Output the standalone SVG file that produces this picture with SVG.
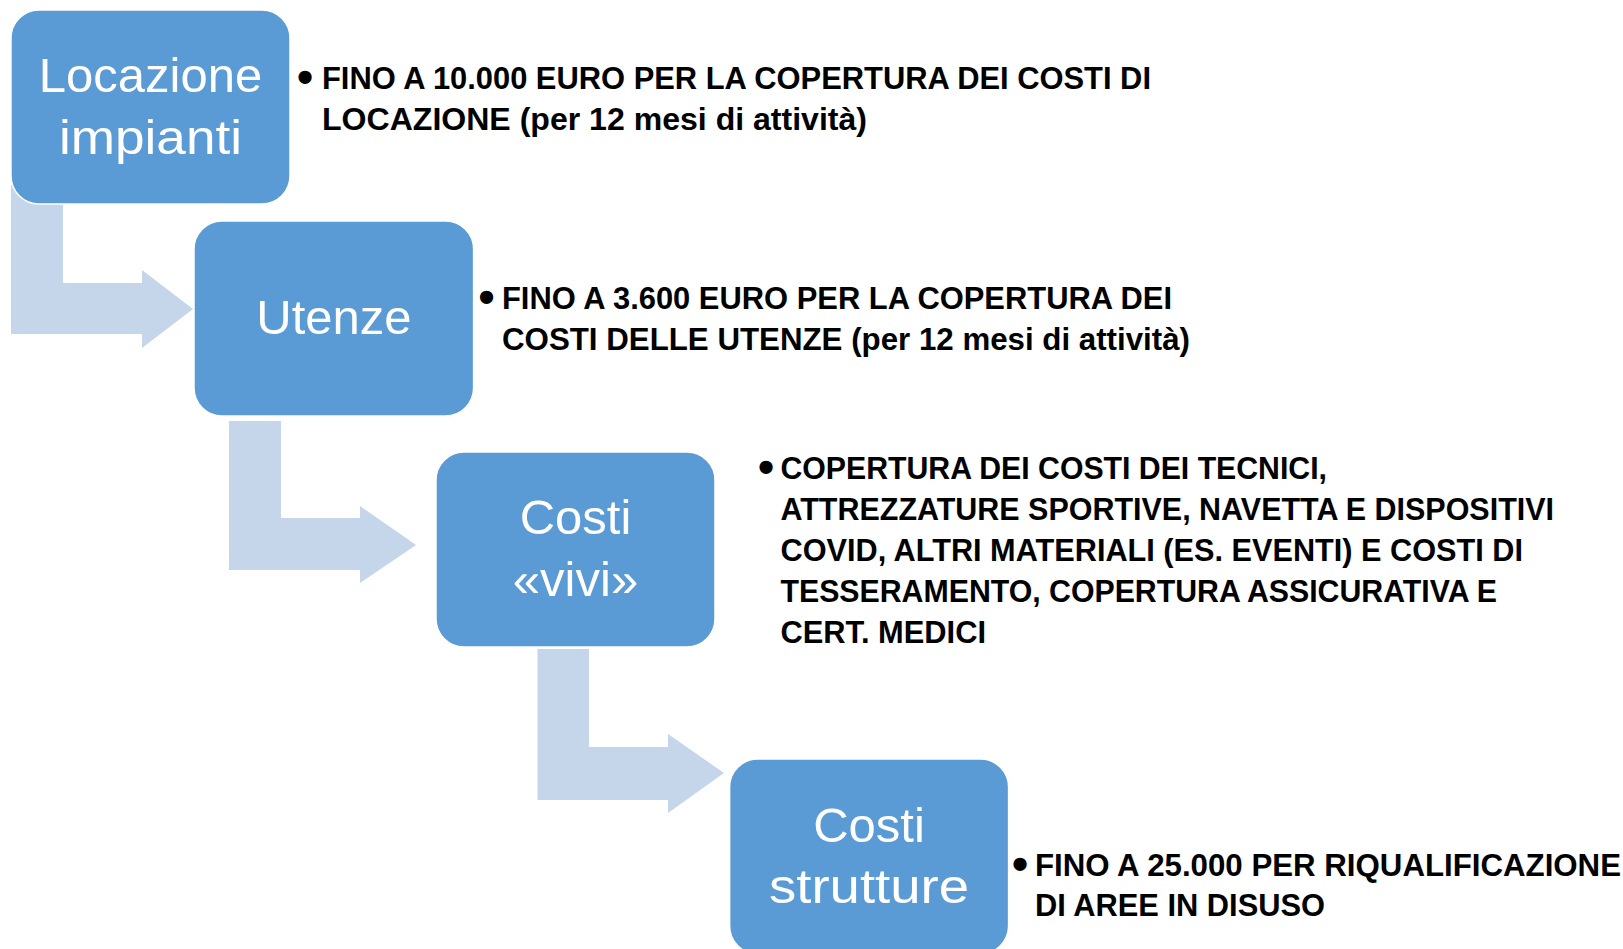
<svg xmlns="http://www.w3.org/2000/svg" width="1623" height="949" viewBox="0 0 1623 949">
<style>
.box{fill:#5B9BD5;stroke:#FFFFFF;stroke-width:1.5}
.arr{fill:#C5D5EA}
.nt{font-family:"Liberation Sans",Arial,sans-serif;font-size:49px;fill:#FFFFFF;text-anchor:middle}
.bt{font-family:"Liberation Sans",Arial,sans-serif;font-size:31px;font-weight:bold;fill:#000000}
.bu{font-family:"Liberation Sans",Arial,sans-serif;font-size:46px;font-weight:bold;fill:#000000;text-anchor:middle}
</style>
<rect width="1623" height="949" fill="#FFFFFF"/>
<g id="connectors">
<polygon class="arr" points="11,185 63,185 63,283 142,283 142,270 193,309 142,348 142,334 11,334"/>
<polygon class="arr" points="229,421 281,421 281,518 360,518 360,506 416,545 360,583 360,570 229,570"/>
<polygon class="arr" points="537.5,649 589,649 589,747 668,747 668,734 724,773 668,813 668,800 537.5,800"/>
</g>
<g id="node-locazione">
<rect class="box" x="11" y="10" width="279" height="194" rx="28"/>
<text class="nt" x="150.5" y="92">Locazione</text>
<text class="nt" x="150.5" y="154" textLength="183" lengthAdjust="spacingAndGlyphs">impianti</text>
</g>
<g id="node-utenze">
<rect class="box" x="194" y="221" width="279.6" height="195" rx="28"/>
<text class="nt" x="334" y="334">Utenze</text>
</g>
<g id="node-costi-vivi">
<rect class="box" x="436" y="452" width="279" height="195" rx="28"/>
<text class="nt" x="575.5" y="534">Costi</text>
<text class="nt" x="575.5" y="596">«vivi»</text>
</g>
<g id="node-costi-strutture">
<rect class="box" x="729.6" y="759" width="279" height="195" rx="28"/>
<text class="nt" x="869" y="842">Costi</text>
<text class="nt" x="869" y="903" textLength="200" lengthAdjust="spacingAndGlyphs">strutture</text>
</g>
<g id="text-locazione">
<text class="bu" x="305" y="93">•</text>
<text class="bt" x="322" y="89" textLength="829" lengthAdjust="spacingAndGlyphs">FINO A 10.000 EURO PER LA COPERTURA DEI COSTI DI</text>
<text class="bt" x="322" y="130" textLength="545" lengthAdjust="spacingAndGlyphs">LOCAZIONE (per 12 mesi di attività)</text>
</g>
<g id="text-utenze">
<text class="bu" x="486.5" y="312.5">•</text>
<text class="bt" x="502" y="308.5" textLength="670" lengthAdjust="spacingAndGlyphs">FINO A 3.600 EURO PER LA COPERTURA DEI</text>
<text class="bt" x="502" y="350" textLength="688" lengthAdjust="spacingAndGlyphs">COSTI DELLE UTENZE (per 12 mesi di attività)</text>
</g>
<g id="text-costi-vivi">
<text class="bu" x="766" y="483">•</text>
<text class="bt" x="780.5" y="479" textLength="546.5" lengthAdjust="spacingAndGlyphs">COPERTURA DEI COSTI DEI TECNICI,</text>
<text class="bt" x="780.5" y="520" textLength="773.5" lengthAdjust="spacingAndGlyphs">ATTREZZATURE SPORTIVE, NAVETTA E DISPOSITIVI</text>
<text class="bt" x="780.5" y="561" textLength="742.5" lengthAdjust="spacingAndGlyphs">COVID, ALTRI MATERIALI (ES. EVENTI) E COSTI DI</text>
<text class="bt" x="780.5" y="602" textLength="716.5" lengthAdjust="spacingAndGlyphs">TESSERAMENTO, COPERTURA ASSICURATIVA E</text>
<text class="bt" x="780.5" y="643" textLength="205.5" lengthAdjust="spacingAndGlyphs">CERT. MEDICI</text>
</g>
<g id="text-costi-strutture">
<text class="bu" x="1020" y="880">•</text>
<text class="bt" x="1035" y="876" textLength="586" lengthAdjust="spacingAndGlyphs">FINO A 25.000 PER RIQUALIFICAZIONE</text>
<text class="bt" x="1035" y="916" textLength="290" lengthAdjust="spacingAndGlyphs">DI AREE IN DISUSO</text>
</g>
</svg>
